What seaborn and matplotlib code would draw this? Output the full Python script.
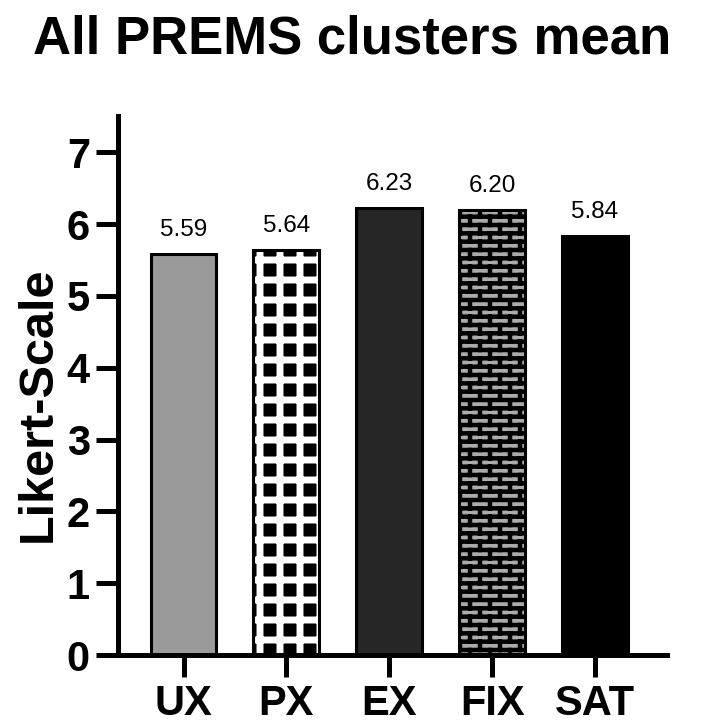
import warnings
import numpy as np
import matplotlib
matplotlib.use("Agg")
import matplotlib.pyplot as plt
import matplotlib.hatch as mhatch
from matplotlib.path import Path
import seaborn as sns
warnings.filterwarnings('ignore')

clusters = ["UX", "PX", "EX", "FIX", "SAT"]
means = [5.59, 5.64, 6.23, 6.20, 5.84]
value_labels = ["5.59", "5.64", "6.23", "6.20", "5.84"]
face_colors = ["#9a9a9a", "#000000", "#262626", "#ababab", "#000000"]
y_ticks = [0, 1, 2, 3, 4, 5, 6, 7]


# custom hatches: 'g' = square grid, 'b' = brick wall
class GridHatch(mhatch.HatchPatternBase):
    def __init__(self, hatch, density):
        self.n = 5 * hatch.count('g')
        self.num_vertices = 4 * (self.n + 1) if self.n else 0

    def set_vertices_and_codes(self, vertices, codes):
        k = 0
        for i in range(self.n + 1):
            p = i / self.n
            vertices[k:k + 4] = [[0, p], [1, p], [p, 0], [p, 1]]
            codes[k:k + 4] = [Path.MOVETO, Path.LINETO, Path.MOVETO, Path.LINETO]
            k += 4


class BrickHatch(mhatch.HatchPatternBase):
    def __init__(self, hatch, density):
        c = hatch.count('b')
        self.rows = 12 * c
        self.cols = 5 * c
        if c:
            nv = 2 * (self.rows + 1)
            for r in range(self.rows):
                nv += 2 * (self.cols + 1 if r % 2 == 0 else self.cols)
            self.num_vertices = nv
        else:
            self.num_vertices = 0

    def set_vertices_and_codes(self, vertices, codes):
        k = 0
        for i in range(self.rows + 1):
            y = i / self.rows
            vertices[k:k + 2] = [[0, y], [1, y]]
            codes[k:k + 2] = [Path.MOVETO, Path.LINETO]
            k += 2
        for r in range(self.rows):
            y0, y1 = r / self.rows, (r + 1) / self.rows
            if r % 2 == 0:
                xs = [j / self.cols for j in range(self.cols + 1)]
            else:
                xs = [(j + 0.5) / self.cols for j in range(self.cols)]
            for x in xs:
                vertices[k:k + 2] = [[x, y0], [x, y1]]
                codes[k:k + 2] = [Path.MOVETO, Path.LINETO]
                k += 2


mhatch._hatch_types.extend([GridHatch, BrickHatch])

sns.set_theme(style="ticks")
plt.rcParams['font.family'] = ['Liberation Sans', 'DejaVu Sans']
plt.rcParams['font.weight'] = 'bold'
for key in ['text.color', 'axes.labelcolor', 'xtick.color', 'ytick.color', 'axes.edgecolor']:
    plt.rcParams[key] = 'black'

fig = plt.figure(figsize=(7.05, 7.27), dpi=100)
ax = fig.add_axes([0.167, 0.099, 0.779, 0.741])

sns.barplot(x=clusters, y=means, hue=clusters, palette=face_colors,
            width=0.64, linewidth=0, legend=False, ax=ax)


def put_hatch(patch, pattern, color, lw):
    patch.set_edgecolor(color)
    patch.set_linewidth(0)
    try:
        patch.set_hatch(pattern)
    except Exception:
        patch._hatch = pattern
    if hasattr(patch, 'set_hatch_linewidth'):
        patch.set_hatch_linewidth(lw)


bars = ax.patches
put_hatch(bars[1], 'g', 'white', 5.0)
put_hatch(bars[3], 'b', 'black', 3.2)

# outlines on top
sns.barplot(x=clusters, y=means, width=0.64, fill=False, color='black',
            linewidth=2.2, ax=ax)

for i, txt in enumerate(value_labels):
    ax.annotate(txt, (i, means[i]), xytext=(0, 9), textcoords='offset points',
                ha='center', va='bottom', fontsize=17.5, fontweight='normal',
                color='black')

ax.set_ylim(0, 7.5)
ax.set_xlim(-0.64, 4.7)
ax.set_yticks(y_ticks)
ax.set_yticklabels([str(t) for t in y_ticks])
sns.despine(ax=ax)
for s in ['left', 'bottom']:
    ax.spines[s].set_linewidth(3.6)
ax.tick_params(axis='both', length=16, width=3.6, labelsize=30, color='black',
               labelcolor='black')
ax.tick_params(axis='y', pad=4)
ax.tick_params(axis='x', pad=5)
for lab in ax.get_xticklabels() + ax.get_yticklabels():
    lab.set_fontweight('bold')

ax.set_xlabel('')
ax.set_ylabel('Likert-Scale', fontsize=35, fontweight='bold', color='black')
ax.yaxis.set_label_coords(-0.104, 0.465)

fig.text(0.5, 0.945, 'All PREMS clusters mean', ha='center', va='center',
         fontsize=38, fontweight='bold', color='black')

fig.savefig('out.png', dpi=100)
